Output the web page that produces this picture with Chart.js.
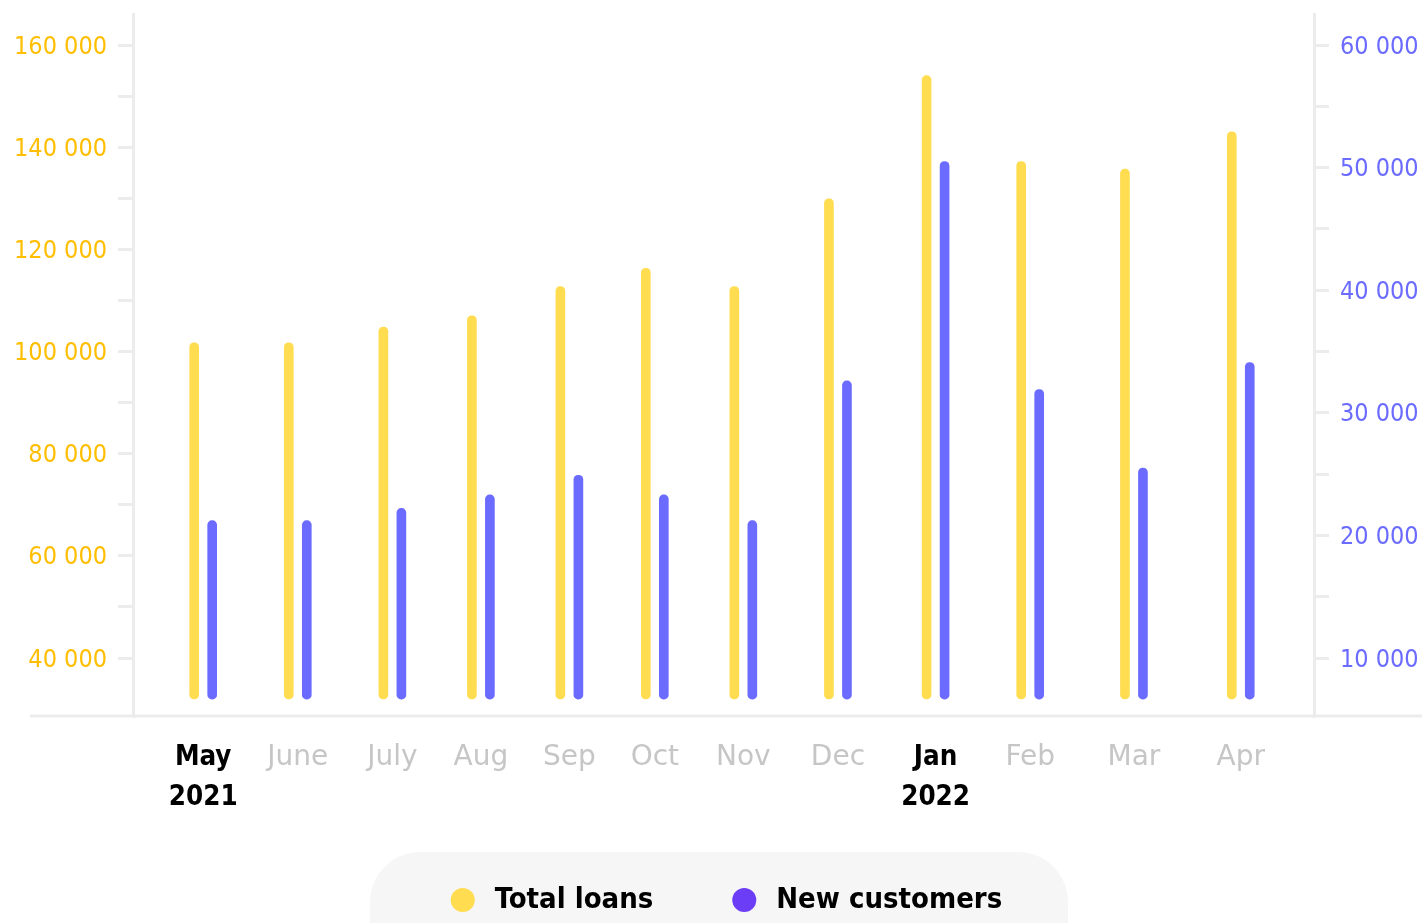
<!DOCTYPE html>
<html>
<head>
<meta charset="utf-8">
<title>Total loans / New customers</title>
<script src="https://cdn.jsdelivr.net/npm/chart.js@4.4.1/dist/chart.umd.min.js"></script>
<style>
  html, body { margin: 0; padding: 0; background: #fff; }
  #wrap { position: relative; width: 1422px; height: 923px; }
</style>
</head>
<body>
<div id="wrap"><canvas id="loansChart"></canvas></div>
<script>
// month labels and where each report falls (days after the first one)
const months = [['May', '2021'], 'June', 'July', 'Aug', 'Sep', 'Oct', 'Nov', 'Dec', ['Jan', '2022'], 'Feb', 'Mar', 'Apr'];
const dayOffsets = [0, 31, 62, 91, 120, 148, 177, 208, 240, 271, 305, 340];

const totalLoans = [101700, 101700, 104800, 107000, 112700, 116300, 112700, 129900, 154000, 137200, 135700, 143000];
const newCustomers = [21200, 21200, 22200, 23300, 24900, 23300, 21200, 32600, 50500, 31900, 25500, 34100];

const loanTicks = [40000, 50000, 60000, 70000, 80000, 90000, 100000, 110000, 120000, 130000, 140000, 150000, 160000];
const customerTicks = [10000, 15000, 20000, 25000, 30000, 35000, 40000, 45000, 50000, 55000, 60000];

const yellow = '#FFDC50';
const purple = '#6B6BFF';
const legendColors = ['#FFDC50', '#6C3DF7'];
const lineGray = '#ececec';

// 160000 -> "160 000"
function formatNumber(v) {
  return String(v).replace(/\B(?=(\d{3})+(?!\d))/g, ' ');
}

function isYearStart(i) {
  return Array.isArray(months[i]);
}

// long base line + legend in a grey pill
const pillLegend = {
  id: 'pillLegend',
  afterDraw(chart) {
    const { ctx, chartArea } = chart;
    ctx.save();

    ctx.strokeStyle = lineGray;
    ctx.lineWidth = 3;
    ctx.beginPath();
    ctx.moveTo(30, chartArea.bottom);
    ctx.lineTo(chart.width, chartArea.bottom);
    ctx.stroke();

    ctx.fillStyle = '#f6f6f6';
    ctx.beginPath();
    ctx.roundRect(370, 852, 698, 120, 50);
    ctx.fill();

    ctx.font = 'bold 29px "DejaVu Sans Condensed", "DejaVu Sans", sans-serif';
    ctx.textBaseline = 'middle';
    const r = 12, gap = 20, spacing = 79;
    const items = chart.data.datasets.map((ds, i) => ({
      text: ds.label,
      color: legendColors[i],
      w: ctx.measureText(ds.label).width
    }));
    const total = items.reduce((s, it) => s + 2 * r + gap + it.w, 0) + spacing * (items.length - 1);
    let x = (chartArea.left + chartArea.right) / 2 - total / 2 + 3;
    const y = 900;
    items.forEach(it => {
      ctx.fillStyle = it.color;
      ctx.beginPath();
      ctx.arc(x + r, y, r, 0, Math.PI * 2);
      ctx.fill();
      ctx.fillStyle = '#000';
      ctx.fillText(it.text, x + 2 * r + gap, y);
      x += 2 * r + gap + it.w + spacing;
    });
    ctx.restore();
  }
};

const tickFont = { family: '"DejaVu Sans Condensed", "DejaVu Sans", sans-serif', size: 25 };

const ctx = document.getElementById('loansChart').getContext('2d');
const loansChart = new Chart(ctx, {
  type: 'bar',
  data: {
    datasets: [{
      label: 'Total loans',
      data: dayOffsets.map((d, i) => ({ x: d, y: totalLoans[i] })),
      yAxisID: 'yLoans',
      backgroundColor: yellow,
      base: 32000,
      barThickness: 18,
      maxBarThickness: 9,
      borderRadius: 5,
      borderSkipped: false
    }, {
      label: 'New customers',
      data: dayOffsets.map((d, i) => ({ x: d, y: newCustomers[i] })),
      yAxisID: 'yCustomers',
      backgroundColor: purple,
      base: 6650,
      barThickness: 18,
      maxBarThickness: 9,
      borderRadius: 5,
      borderSkipped: false
    }]
  },
  options: {
    responsive: true,
    maintainAspectRatio: false,
    animation: false,
    layout: { padding: { top: 14, bottom: 89, left: 0, right: 0 } },
    plugins: {
      legend: { display: false },
      tooltip: { enabled: false }
    },
    scales: {
      x: {
        type: 'linear',
        bounds: 'data',
        offset: false,
        min: -23,
        max: 364,
        grid: { display: false, drawTicks: false, tickLength: 0, offset: false },
        border: { display: false },
        afterBuildTicks: scale => {
          scale.ticks = dayOffsets.map(d => ({ value: d }));
        },
        afterFit: scale => {
          scale.height = 118;
          scale.paddingLeft = 0;
          scale.paddingRight = 0;
        },
        ticks: {
          autoSkip: false,
          maxRotation: 0,
          padding: 22,
          callback: (value, index) => months[index],
          color: c => isYearStart(c.index) ? '#000' : '#c6c6c6',
          font: c => isYearStart(c.index)
            ? { family: '"DejaVu Sans Condensed", "DejaVu Sans", sans-serif', size: 27.5, weight: 'bold', lineHeight: '40px' }
            : { family: '"DejaVu Sans", sans-serif', size: 28, lineHeight: '40px' }
        }
      },
      yLoans: {
        type: 'linear',
        position: 'left',
        bounds: 'data',
        min: 28650,
        max: 166070,
        afterBuildTicks: scale => {
          scale.ticks = loanTicks.map(v => ({ value: v }));
        },
        afterFit: scale => {
          scale.width = 133;
          scale.paddingTop = 0;
          scale.paddingBottom = 0;
        },
        grid: { drawOnChartArea: false, color: lineGray, lineWidth: 3, tickLength: 15 },
        border: { color: lineGray, width: 3 },
        ticks: {
          padding: 11,
          labelOffset: 2,
          color: '#FFBE00',
          font: tickFont,
          callback: v => v % 20000 === 0 ? formatNumber(v) : ''
        }
      },
      yCustomers: {
        type: 'linear',
        position: 'right',
        bounds: 'data',
        min: 5270,
        max: 62530,
        afterBuildTicks: scale => {
          scale.ticks = customerTicks.map(v => ({ value: v }));
        },
        afterFit: scale => {
          scale.width = 108;
          scale.paddingTop = 0;
          scale.paddingBottom = 0;
        },
        grid: { drawOnChartArea: false, color: lineGray, lineWidth: 3, tickLength: 15 },
        border: { color: lineGray, width: 3 },
        ticks: {
          padding: 11,
          labelOffset: 2,
          color: '#6B6BFF',
          font: tickFont,
          callback: v => v % 10000 === 0 ? formatNumber(v) : ''
        }
      }
    }
  },
  plugins: [pillLegend]
});
</script>
</body>
</html>
